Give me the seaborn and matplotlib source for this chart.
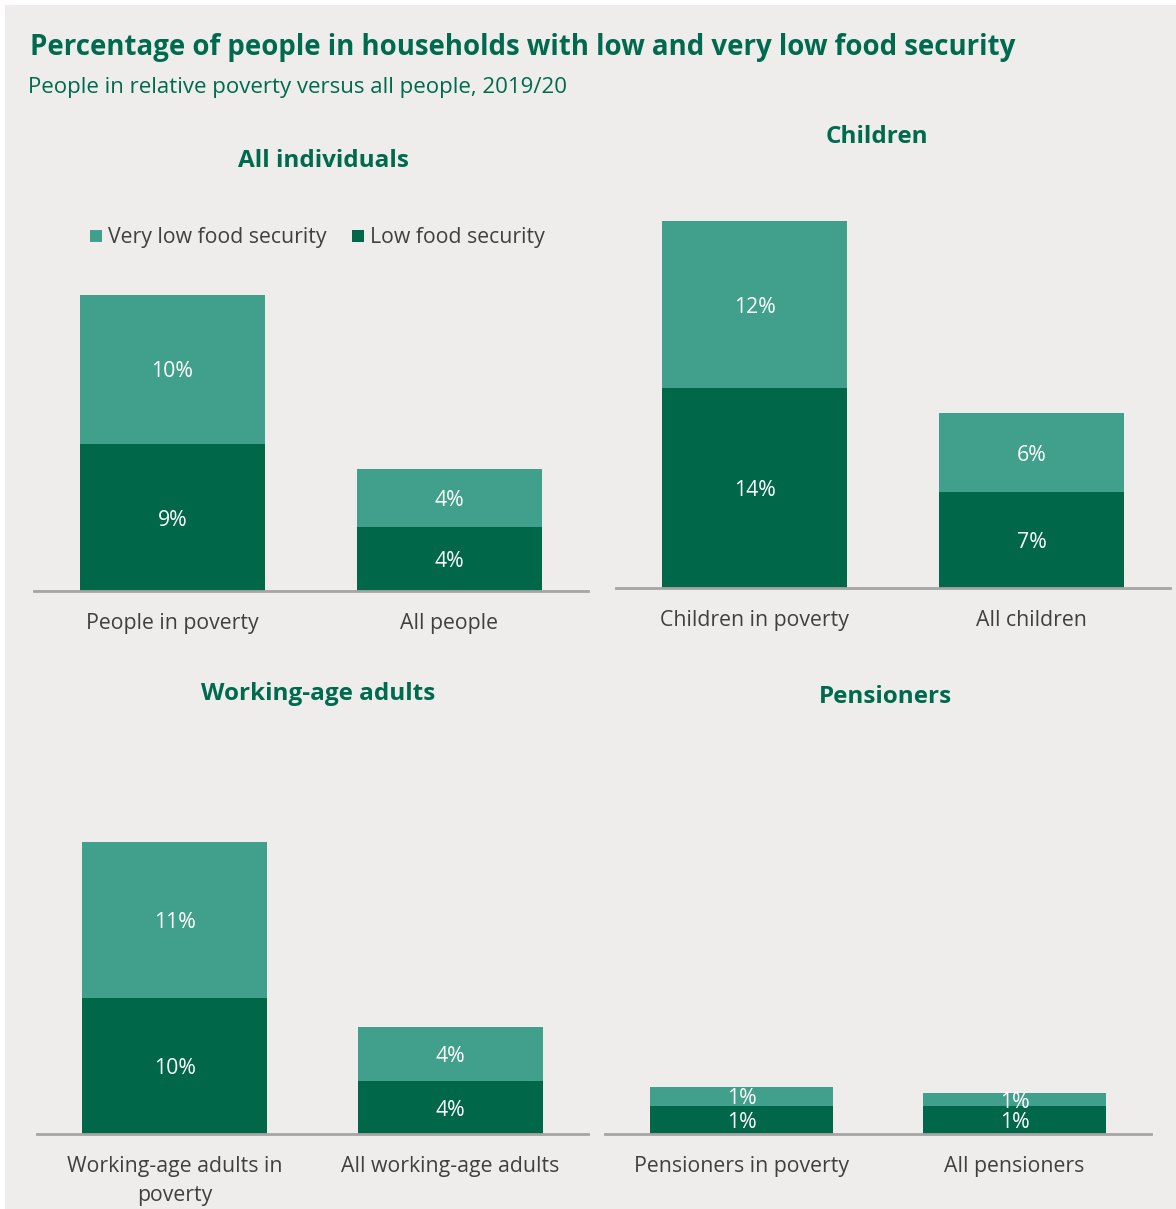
import matplotlib
matplotlib.use("Agg")
import matplotlib.pyplot as plt
from matplotlib.patches import Rectangle, Patch
import seaborn as sns
import pandas as pd

sns.set_theme(style="white")
plt.rcParams['font.family'] = ['Open Sans', 'DejaVu Sans']

# ---- data ----
panel_titles = ["All individuals", "Children", "Working-age adults", "Pensioners"]
categories_all = ["People in poverty", "All people"]
categories_children = ["Children in poverty", "All children"]
categories_working = ["Working-age adults in\npoverty", "All working-age adults"]
categories_pensioners = ["Pensioners in poverty", "All pensioners"]

low_all = [9.4, 4.1]
very_low_all = [9.6, 3.7]
low_children = [14.2, 6.8]
very_low_children = [11.8, 5.6]
low_working = [9.8, 3.8]
very_low_working = [11.3, 3.9]
low_pensioners = [1.4, 1.4]
very_low_pensioners = [0.95, 0.65]

series_names = ["Very low food security", "Low food security"]

BG = "#EEEDEB"
C_VLOW = "#41A08B"
C_LOW = "#006749"
GREEN_TXT = "#006A4E"
GREY_TXT = "#404040"
FS = 15.3

W, H = 1176, 1209
fig = plt.figure(figsize=(W / 100, H / 100), dpi=100, facecolor="white")
fig.patches.append(Rectangle((5 / W, 0), 1 - 5 / W, 1 - 5 / H, transform=fig.transFigure,
                             facecolor=BG, edgecolor="none", zorder=-10))


def ax_at(left, right, bottom_px, top_px):
    return fig.add_axes([left / W, 1 - bottom_px / H, (right - left) / W, (bottom_px - top_px) / H])


panels = [
    (categories_all, low_all, very_low_all, (34, 588, 591, 280), 311 / 15.6),
    (categories_children, low_children, very_low_children, (616, 1170, 588, 210), 378 / 14.1),
    (categories_working, low_working, very_low_working, (37, 588, 1134, 820), 314 / 13.85),
    (categories_pensioners, low_pensioners, very_low_pensioners, (605, 1151, 1134, 820), 314 / 20.0),
]

for cats, low, vlow, box, ymax in panels:
    ax = ax_at(*box)
    ax.set_facecolor("none")
    df = pd.DataFrame({"cat": cats, "low": low, "total": [a + b for a, b in zip(low, vlow)]})
    sns.barplot(data=df, x="cat", y="total", color=C_VLOW, width=0.67, ax=ax,
                saturation=1, edgecolor="none")
    sns.barplot(data=df, x="cat", y="low", color=C_LOW, width=0.67, ax=ax,
                saturation=1, edgecolor="none")
    ax.set_xlim(-0.5, 1.5)
    ax.set_ylim(0, ymax)
    ax.set_xlabel("")
    ax.set_ylabel("")
    ax.set_yticks([])
    for s in ["top", "right", "left"]:
        ax.spines[s].set_visible(False)
    ax.spines["bottom"].set_color("#A5A5A5")
    ax.spines["bottom"].set_linewidth(2)
    ax.tick_params(axis="x", length=0, pad=16, labelsize=FS, labelcolor=GREY_TXT)
    for lab in ax.get_xticklabels():
        lab.set_linespacing(1.5)
    for i, (lo, vl) in enumerate(zip(low, vlow)):
        ax.text(i, lo / 2, f"{round(lo):.0f}%", ha="center", va="center_baseline",
                color="white", fontsize=FS)
        ax.text(i, lo + vl / 2, f"{max(1, round(vl)):.0f}%", ha="center", va="center_baseline",
                color="white", fontsize=FS)

# panel titles
title_pos = [(323, 161), (877, 137), (318, 694), (885, 697)]
for t, (x, y) in zip(panel_titles, title_pos):
    fig.text(x / W, 1 - y / H, t, ha="center", va="center", fontsize=17.5,
             fontweight="bold", color=GREEN_TXT)

# main title and subtitle
fig.text(30 / W, 1 - 47 / H, "Percentage of people in households with low and very low food security",
         ha="left", va="center", fontsize=19.9, fontweight="bold", color=GREEN_TXT)
fig.text(28 / W, 1 - 87 / H, "People in relative poverty versus all people, 2019/20",
         ha="left", va="center", fontsize=16, color=GREEN_TXT)

# legend
handles = [Patch(facecolor=C_VLOW, edgecolor="none"), Patch(facecolor=C_LOW, edgecolor="none")]
fig.legend(handles, series_names, loc="center left", bbox_to_anchor=(71 / W, 1 - 238 / H),
           ncol=2, frameon=False, fontsize=FS, labelcolor=GREY_TXT,
           handlelength=0.55, handleheight=0.55, handletextpad=0.3, columnspacing=1.2)

fig.savefig("out.png", dpi=100, facecolor="white")
